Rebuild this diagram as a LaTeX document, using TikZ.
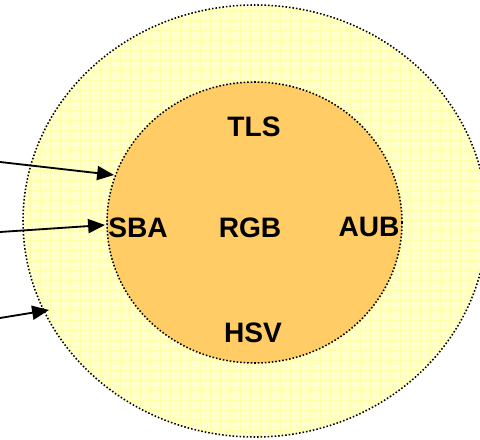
\documentclass[tikz,border=0pt]{standalone}
\usepackage{fontspec}
\setmainfont{Liberation Sans}
\usetikzlibrary{arrows.meta}
\definecolor{paleyellow}{HTML}{FFFFCC}
\definecolor{gridyellow}{HTML}{FFFFAA}
\definecolor{coreorange}{HTML}{FFCC66}
\begin{document}
\begin{tikzpicture}[x=0.025cm,y=0.025cm,>={Triangle[length=12pt,width=10pt]},
		line join=round,font=\fontsize{20}{24}\selectfont\bfseries,
		rim/.style={line width=1.1pt,dash pattern=on 1.1pt off 1.4pt},
		pointer/.style={->,line width=1.3pt}]
		\def\ox{255} \def\oy{219} \def\ix{254.5} \def\iy{217.5}
		\useasboundingbox (0,0) rectangle (480,440);
		\clip (0,0) rectangle (480,440);
		% outer ring with its faint grid
		\fill[paleyellow] (\ox,\oy) ellipse [x radius=232,y radius=216];
		\begin{scope}
			\clip (\ox,\oy) ellipse [x radius=232,y radius=216];
			\draw[gridyellow,line width=0.4pt,step=0.25cm] (0,0) grid (480,440);
		\end{scope}
		\draw[rim] (\ox,\oy) ellipse [x radius=232,y radius=216];
		% inner core
		\filldraw[fill=coreorange,rim] (\ix,\iy) ellipse [x radius=147.5,y radius=140.5];
		\node (tls) at (254,313) {TLS};
		\node (rgb) at (250,212) {RGB};
		\node (sba) at (138,212) {SBA};
		\node (aub) at (369,213) {AUB};
		\node (hsv) at (253,107) {HSV};
		% arrows coming in from the left margin
		\coordinate (a1) at (0,278);  \coordinate (b1) at (114,265);
		\coordinate (a2) at (0,208);  \coordinate (b2) at (105,215);
		\coordinate (a3) at (0,122);  \coordinate (b3) at (49,130);
		\draw[pointer] (a1)--(b1);
		\draw[pointer] (a2)--(b2);
		\draw[pointer] (a3)--(b3);
		\end{tikzpicture}
\end{document}
